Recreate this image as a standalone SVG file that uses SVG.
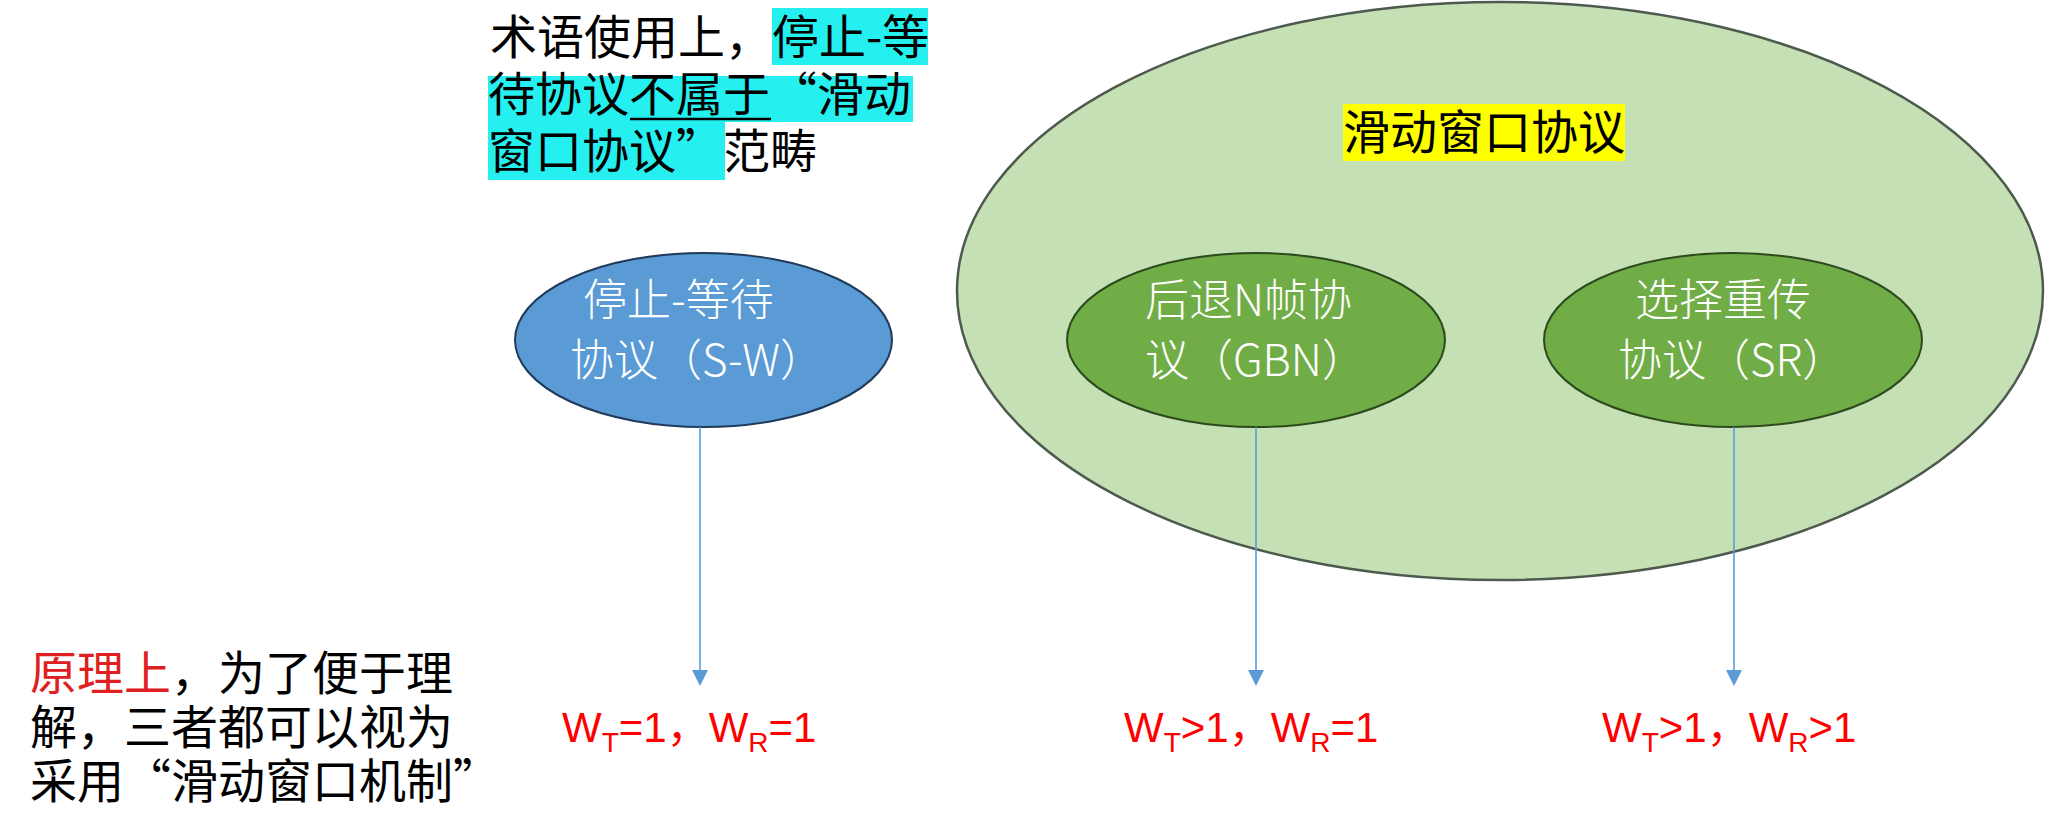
<svg xmlns="http://www.w3.org/2000/svg" width="2071" height="822" viewBox="0 0 2071 822">
<style>
.cjk{font-family:"Noto Sans CJK SC","Noto Sans",sans-serif;}
.note{font-size:47px;fill:#000;}
.etext{font-size:44px;fill:#fff;font-weight:300;}
.w{font-family:"Liberation Sans","Noto Sans CJK SC",sans-serif;font-size:42px;fill:#ff0000;}
.conn{stroke:#5b9bd5;stroke-width:1.6;fill:none;}
</style>
<defs>
<marker id="ah" markerUnits="userSpaceOnUse" markerWidth="16" markerHeight="16" viewBox="0 0 16 16" refX="1" refY="8" orient="auto">
<path d="M0,0 L16,8 L0,16 z" fill="#5b9bd5"/>
</marker>
</defs>
<rect width="2071" height="822" fill="#fff"/>

<g id="sliding-window">
<ellipse cx="1500" cy="291" rx="543" ry="289" fill="#c5e0b4" stroke="#4d5a4d" stroke-width="2.5"/>
<rect x="1343" y="104" width="282" height="57" fill="#ffff00"/>
<text class="cjk note" x="1343" y="149">滑动窗口协议</text>
</g>

<g id="note-top">
<rect x="772" y="8" width="156" height="57" fill="#26efef"/>
<rect x="488" y="76" width="425" height="46" fill="#26efef"/>
<rect x="488" y="122" width="237" height="58" fill="#26efef"/>
<text class="cjk note" x="490" y="54">术语使用上，停止-等</text>
<text class="cjk note" x="488" y="111">待协议不属于“滑动</text>
<text class="cjk note" x="488" y="168">窗口协议”范畴</text>
<line x1="630" y1="119" x2="771" y2="119" stroke="#000" stroke-width="2.5"/>
</g>

<g id="sw">
<ellipse cx="703.5" cy="340" rx="188.5" ry="87" fill="#5b9bd5" stroke="#1f3a5a" stroke-width="2"/>
<text class="cjk etext" x="583" y="316">停止-等待</text>
<text class="cjk etext" x="570" y="376">协议（S-W）</text>
</g>

<g id="gbn">
<ellipse cx="1256" cy="340" rx="189" ry="87" fill="#70ad47" stroke="#2d4a1e" stroke-width="2"/>
<text class="cjk etext" x="1145" y="316">后退N帧协</text>
<text class="cjk etext" x="1145" y="376">议（GBN）</text>
</g>

<g id="sr">
<ellipse cx="1733" cy="340" rx="189" ry="87" fill="#70ad47" stroke="#2d4a1e" stroke-width="2"/>
<text class="cjk etext" x="1635" y="316">选择重传</text>
<text class="cjk etext" x="1618" y="376">协议（SR）</text>
</g>

<g id="connectors">
<line class="conn" x1="700" y1="427" x2="700" y2="671" marker-end="url(#ah)"/>
<line class="conn" x1="1256" y1="427" x2="1256" y2="671" marker-end="url(#ah)"/>
<line class="conn" x1="1734" y1="427" x2="1734" y2="671" marker-end="url(#ah)"/>
</g>

<g id="w-sw">
<text class="w" x="562" y="742">W<tspan font-size="28" dy="10">T</tspan><tspan dy="-10">=1</tspan><tspan font-family="Noto Sans CJK SC">，</tspan>W<tspan font-size="28" dy="10">R</tspan><tspan dy="-10">=1</tspan></text>
</g>
<g id="w-gbn">
<text class="w" x="1124" y="742">W<tspan font-size="28" dy="10">T</tspan><tspan dy="-10">&gt;1</tspan><tspan font-family="Noto Sans CJK SC">，</tspan>W<tspan font-size="28" dy="10">R</tspan><tspan dy="-10">=1</tspan></text>
</g>
<g id="w-sr">
<text class="w" x="1602" y="742">W<tspan font-size="28" dy="10">T</tspan><tspan dy="-10">&gt;1</tspan><tspan font-family="Noto Sans CJK SC">，</tspan>W<tspan font-size="28" dy="10">R</tspan><tspan dy="-10">&gt;1</tspan></text>
</g>

<g id="note-bottom">
<text class="cjk note" font-size="46" x="30" y="690"><tspan fill="#e02020">原理上</tspan>，为了便于理</text>
<text class="cjk note" font-size="46" x="30" y="744">解，三者都可以视为</text>
<text class="cjk note" font-size="46" x="30" y="798">采用“滑动窗口机制”</text>
</g>
</svg>
